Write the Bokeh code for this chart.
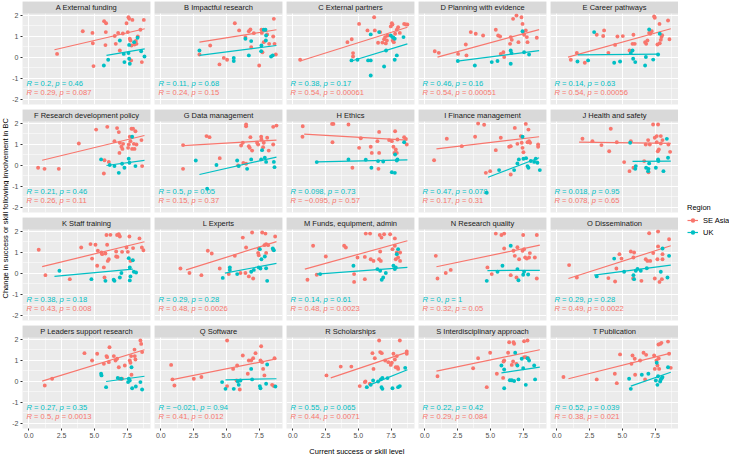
import math
from bokeh.plotting import figure
from bokeh.models import (Range1d, FixedTicker, LinearAxis, PrintfTickFormatter,
                          BoxAnnotation, Label, Legend, LegendItem, GridBox)
from bokeh.embed import file_html
from bokeh.resources import INLINE

# ---------------------------------------------------------------- data
PANEL_TITLES = [
    "A External funding", "B Impactful research", "C External partners",
    "D Planning with evidence", "E Career pathways",
    "F Research development policy", "G Data management", "H Ethics",
    "I Finance management", "J Health and safety",
    "K Staff training", "L Experts", "M Funds, equipment, admin",
    "N Research quality", "O Dissemination",
    "P Leaders support research", "Q Software", "R Scholarships",
    "S Interdisciplinary approach", "T Publication",
]

REGIONS = ["SE Asia", "UK"]

# (current level, change) pairs, one list per panel
SE_POINTS = [
    [(2.16,0.17),(4.12,1.25),(4.86,1.17),(4.89,0.68),(4.94,-0.41),(5.75,1.73),(5.9,1.63),(5.88,1.21),(5.85,0.59),(6.56,1.02),(6.64,0.65),(6.82,1.17),(6.95,0.33),(7.18,1.14),(7.46,1.63),(7.56,1.21),(7.61,1.92),(7.66,1.84),(7.71,0.89),(7.76,0.81),(7.84,0.57),(7.91,1.79),(8.07,0.62),(8.17,0.79),(8.22,0.65),(8.32,1.0),(8.52,1.32),(8.63,-0.22),(8.78,1.79),(7.81,-0.14)],
    [(2.95,0.14),(3.77,0.57),(4.48,-0.33),(4.81,-0.02),(5.06,-0.11),(5.65,1.63),(5.98,1.29),(6.46,0.97),(6.72,1.25),(6.84,1.33),(6.9,0.49),(7.1,1.16),(7.51,-0.38),(7.68,1.32),(7.71,1.17),(7.76,0.25),(7.86,0.73),(8.12,1.1),(8.27,0.65),(8.58,1.0),(8.63,1.84),(8.68,0.65),(8.78,0.14)],
    [(0.56,-0.11),(4.17,0.73),(4.5,0.87),(4.6,0.21),(4.6,0.05),(5.06,1.6),(5.7,1.29),(6.21,1.92),(6.26,1.29),(6.51,0.7),(6.67,1.21),(6.84,0.71),(6.97,0.87),(7.1,0.67),(7.18,0.81),(7.23,1.05),(7.48,1.48),(7.56,1.63),(7.61,1.57),(7.63,0.81),(7.71,0.73),(7.81,1.13),(7.94,1.32),(8.04,1.44),(8.17,1.17),(8.5,1.6),(8.63,1.57),(8.75,1.57),(7.05,0.97)],
    [(0.76,0.3),(1.07,0.22),(2.54,0.17),(3.13,0.62),(3.18,0.1),(3.51,1.21),(3.89,1.13),(4.45,1.05),(5.42,1.32),(5.6,1.05),(5.75,1.0),(5.8,0.17),(6.0,0.25),(6.06,0.02),(6.51,0.65),(6.64,0.84),(6.74,1.84),(7.0,2.0),(6.56,0.97),(7.15,0.73),(7.38,1.92),(7.46,1.6),(7.51,1.21),(7.58,1.08),(7.71,1.29),(7.79,0.97),(7.84,0.73),(8.55,0.94)],
    [(1.07,-0.11),(1.53,0.21),(2.14,-0.25),(3.05,1.08),(3.54,1.02),(3.61,1.29),(3.94,0.22),(4.45,0.6),(4.63,1.0),(5.04,1.02),(5.55,0.33),(5.78,0.65),(5.85,1.08),(5.95,0.65),(6.74,0.73),(6.82,0.65),(6.92,0.81),(7.05,1.17),(7.13,1.13),(7.25,1.25),(7.43,1.95),(7.48,1.89),(7.68,0.62),(7.84,1.6),(7.86,0.68),(7.94,0.84),(7.99,0.97),(8.04,1.06),(8.49,1.76),(8.6,0.87)],
    [(0.71,-0.11),(1.2,-0.16),(2.29,-0.16),(3.82,1.05),(5.14,1.71),(5.78,0.25),(5.73,-0.38),(5.99,1.84),(6.11,0.17),(6.54,1.16),(6.74,1.78),(6.87,1.59),(6.92,0.6),(6.95,1.08),(7.07,0.89),(7.15,0.79),(7.2,1.03),(7.63,1.0),(7.71,1.37),(7.76,1.16),(7.84,1.75),(7.96,1.75),(7.89,0.79),(8.02,1.03),(8.07,0.79),(8.14,1.63),(8.22,1.0),(8.6,1.21),(8.65,-0.03),(7.58,0.84)],
    [(1.7,0.97),(1.7,-0.16),(3.49,1.4),(3.72,1.35),(4.5,0.35),(5.9,0.0),(6.13,0.95),(6.26,1.08),(6.51,0.08),(6.51,1.87),(6.51,1.95),(6.72,0.92),(6.84,1.35),(6.79,0.84),(6.97,0.71),(7.35,1.08),(7.43,1.0),(7.66,1.37),(7.68,1.24),(7.81,0.87),(7.86,1.08),(8.12,1.32),(8.24,0.71),(8.58,1.0),(8.58,1.84),(8.83,1.9),(6.3,0.12)],
    [(0.76,1.87),(0.74,1.37),(3.03,1.11),(3.1,1.98),(3.0,1.98),(4.25,1.95),(4.55,-0.11),(5.06,0.84),(5.19,1.3),(5.95,0.89),(6.03,0.6),(6.46,1.16),(6.59,1.6),(6.59,0.6),(6.54,-0.16),(7.35,1.21),(7.56,1.16),(7.68,0.89),(7.76,0.6),(7.81,1.63),(7.86,0.76),(7.94,0.6),(7.99,1.24),(8.5,1.35),(8.63,1.27),(8.7,1.0)],
    [(0.71,0.25),(1.68,1.27),(2.82,0.92),(3.84,1.37),(4.07,2.0),(4.53,1.94),(5.42,0.73),(5.8,1.32),(4.99,-0.27),(4.66,-0.35),(6.44,0.89),(6.56,0.92),(6.87,1.79),(7.07,1.03),(7.4,1.08),(7.46,0.84),(7.53,0.63),(7.71,1.98),(7.84,1.11),(7.91,1.71),(7.96,1.16),(8.04,1.08),(8.65,1.0),(8.65,0.89),(6.56,-0.43),(7.33,1.4)],
    [(1.96,1.27),(2.72,1.16),(3.41,0.97),(4.0,0.68),(4.12,1.75),(4.58,1.11),(5.14,0.16),(5.55,-0.27),(5.65,1.16),(5.85,-0.11),(6.67,0.21),(6.79,1.0),(6.97,1.21),(7.0,-0.32),(7.1,1.0),(7.35,1.95),(7.48,1.32),(7.63,1.4),(7.71,0.68),(7.73,1.95),(7.79,0.76),(7.94,1.4),(7.94,1.05),(8.07,1.21),(8.52,1.0),(8.65,0.65),(7.63,1.11)],
    [(0.76,1.13),(1.27,-0.08),(3.13,-0.27),(4.0,1.24),(4.71,1.4),(4.83,0.71),(5.09,1.37),(5.22,0.37),(5.27,1.08),(5.55,1.0),(5.6,0.92),(5.73,0.29),(5.78,-0.19),(5.85,0.95),(5.93,1.83),(5.98,1.37),(6.03,0.6),(6.11,0.68),(6.23,1.84),(6.67,1.05),(6.74,1.83),(6.87,1.87),(6.95,1.76),(6.67,0.81),(6.77,0.79),(7.12,1.03),(7.46,1.24),(7.56,1.03),(7.68,1.76),(7.76,0.6),(7.96,1.21),(8.45,1.67),(8.63,1.24),(8.75,1.11)],
    [(1.5,0.24),(2.19,0.02),(3.1,-0.08),(3.59,1.08),(3.89,0.95),(4.5,0.24),(5.19,-0.03),(5.65,0.84),(6.08,0.02),(6.26,1.71),(6.51,1.24),(6.46,0.02),(6.97,1.95),(6.72,-0.14),(7.05,-0.24),(7.43,0.98),(7.48,0.87),(7.74,1.95),(7.91,1.35),(7.99,1.9),(8.04,1.4),(8.04,0.98),(8.19,1.35),(8.58,1.13),(8.73,1.76),(7.48,1.19)],
    [(1.12,-0.3),(1.55,1.32),(1.83,-0.06),(2.52,0.81),(3.92,1.32),(4.05,1.24),(4.68,-0.03),(4.68,-0.4),(4.94,0.76),(5.5,-0.27),(5.5,0.79),(5.57,1.9),(5.9,1.9),(5.95,0.68),(6.16,0.6),(6.59,0.68),(6.64,1.83),(6.72,0.6),(6.67,1.05),(6.77,1.71),(6.97,1.87),(7.43,1.87),(7.61,1.16),(7.79,1.67),(7.86,0.68),(7.94,1.0),(8.04,0.76),(8.19,1.0),(8.19,0.6),(7.79,1.32)],
    [(0.84,0.84),(0.97,-0.24),(1.6,0.02),(1.98,0.17),(4.78,0.29),(5.11,-0.03),(5.42,1.9),(5.85,1.83),(6.06,1.9),(6.06,1.19),(6.56,-0.08),(6.77,1.08),(6.87,0.84),(7.0,-0.19),(7.07,1.25),(7.2,0.68),(7.46,1.08),(7.51,1.83),(7.58,1.16),(7.66,0.76),(7.79,0.71),(7.96,0.76),(8.02,0.97),(8.4,0.76),(8.55,-0.24),(8.55,1.83)],
    [(0.94,0.4),(1.53,-0.19),(3.94,-0.22),(4.45,-0.38),(4.55,0.24),(4.78,0.92),(4.94,0.71),(5.65,1.05),(5.9,1.0),(5.85,0.76),(5.83,-0.24),(6.46,-0.35),(6.79,0.68),(6.92,0.6),(7.05,1.92),(7.13,0.6),(7.36,0.97),(7.48,-0.24),(7.68,0.68),(7.73,2.0),(7.73,1.29),(7.84,-0.4),(8.02,-0.27),(8.07,0.92),(8.07,0.68),(8.57,1.63)],
    [(1.22,-0.19),(1.78,0.13),(4.25,1.35),(4.83,1.0),(5.22,1.32),(5.73,0.84),(5.93,1.21),(5.98,1.16),(6.16,1.63),(6.11,0.92),(6.49,1.21),(6.62,1.0),(6.74,1.08),(6.87,0.68),(6.92,0.13),(7.12,0.13),(7.33,0.76),(7.71,1.0),(7.76,0.89),(7.81,1.21),(7.84,0.32),(8.09,1.21),(8.14,1.05),(8.52,1.95),(8.58,1.79),(8.65,1.4),(8.07,1.52)],
    [(0.79,0.79),(0.89,0.1),(1.04,-0.19),(2.52,0.13),(3.1,0.21),(5.06,1.95),(5.06,-0.22),(5.52,0.6),(5.83,0.76),(6.26,1.24),(6.64,0.37),(6.72,1.0),(6.9,1.0),(7.23,1.35),(7.05,1.11),(7.61,1.0),(7.66,1.68),(7.73,0.92),(7.81,0.6),(7.91,0.29),(8.5,-0.16),(8.63,-0.22),(8.68,1.11),(5.78,0.05),(6.03,-0.38)],
    [(2.57,0.29),(3.66,0.71),(4.47,0.71),(5.11,-0.22),(5.5,-0.03),(5.88,-0.11),(6.08,1.35),(6.16,0.6),(6.26,1.11),(6.59,1.95),(6.67,1.4),(6.79,1.35),(7.05,1.0),(7.3,0.92),(7.48,0.79),(7.56,0.89),(7.68,1.32),(7.79,1.05),(7.86,0.68),(7.94,1.21),(8.0,0.68),(8.04,0.6),(8.17,1.95),(8.7,1.43),(8.7,1.32),(5.55,0.0)],
    [(0.97,0.25),(3.69,0.63),(4.07,1.11),(4.73,-0.27),(4.99,1.37),(5.5,0.37),(5.98,0.17),(6.01,0.95),(6.06,1.0),(6.36,1.37),(6.44,1.87),(6.77,1.87),(6.64,0.79),(6.74,0.95),(6.99,0.84),(7.58,1.92),(7.58,1.16),(7.71,1.16),(7.84,1.95),(7.89,1.11),(6.82,1.8)],
    [(0.51,0.21),(3.05,0.1),(4.43,0.37),(4.58,-0.08),(4.83,1.29),(5.78,1.24),(5.7,0.84),(5.95,1.08),(5.98,0.32),(6.36,1.0),(6.62,1.37),(6.74,0.1),(6.82,1.27),(7.43,1.24),(7.48,0.6),(7.61,1.0),(7.68,0.76),(7.76,1.76),(7.81,0.6),(7.89,1.79),(7.99,1.84),(7.78,1.1),(8.49,1.9),(8.57,1.32),(8.7,0.65)],
]

UK_POINTS = [
    [(5.73,-0.38),(6.06,-0.11),(6.95,0.81),(7.25,0.17),(7.3,-0.22),(7.61,0.21),(7.66,0.6),(7.66,-0.06),(7.71,-0.3),(8.04,0.73),(8.3,0.94),(8.58,0.3),(8.83,0.05)],
    [(2.95,0.33),(5.57,-0.02),(5.57,-0.17),(6.46,0.89),(6.72,0.1),(6.9,0.78),(7.66,0.3),(7.68,0.57),(7.86,1.32),(7.99,1.32),(8.04,1.05),(8.02,0.81),(8.42,0.05),(8.55,0.1)],
    [(4.48,-0.14),(4.94,-0.11),(5.75,-0.14),(5.95,-0.14),(5.95,1.1),(5.95,-0.86),(6.59,1.21),(6.97,-0.43),(7.12,0.33),(7.48,1.05),(7.61,0.97),(7.68,0.94),(7.78,0.89),(7.94,0.1),(7.78,-0.11),(8.45,0.97)],
    [(2.52,-0.17),(3.82,-0.38),(5.11,-0.22),(5.55,-0.17),(6.56,-0.3),(6.56,0.33),(6.62,0.21),(7.46,1.25),(7.58,0.25),(7.96,0.14)],
    [(1.58,-0.19),(2.39,-0.14),(2.85,1.21),(4.38,-0.25),(4.83,-0.19),(5.65,0.21),(5.78,0.33),(5.83,-0.06),(5.99,-0.22),(6.74,-0.38),(6.8,0.02),(7.05,1.33),(7.36,-0.1),(7.86,1.13),(7.73,0.14)],
    [(5.52,0.29),(6.18,0.02),(6.54,-0.03),(6.87,-0.35),(7.12,0.08),(7.3,-0.11),(7.63,0.32),(7.68,0.13),(7.89,1.37),(8.14,-0.03)],
    [(2.67,0.24),(3.54,-1.11),(4.25,0.02),(5.83,0.24),(5.95,-0.03),(6.59,-0.16),(6.9,0.29),(7.66,0.29),(7.73,0.73),(7.94,0.37),(8.04,0.17),(8.63,0.17),(8.68,-0.08)],
    [(1.83,0.16),(4.25,0.29),(5.57,0.27),(6.0,-0.11),(6.51,0.21),(6.9,0.19),(7.56,-0.32),(7.79,-0.35),(7.94,0.24),(7.81,0.52),(7.99,0.29),(8.5,1.11)],
    [(5.67,-0.22),(7.46,1.37),(6.82,-0.22),(7.18,0.29),(7.53,0.32),(7.73,0.35),(7.84,-0.03),(7.91,-0.11),(8.09,0.21),(8.35,0.17),(8.47,0.32),(8.6,0.13),(8.78,-0.22),(7.07,0.1),(4.73,-1.3)],
    [(5.6,1.08),(6.03,-0.03),(5.99,-0.16),(6.82,-0.11),(7.0,-0.16),(7.05,0.1),(7.56,-0.11),(7.73,0.29),(7.76,0.21),(8.14,-0.27),(8.4,1.27),(8.49,0.37),(6.97,-0.27)],
    [(2.34,0.13),(4.78,-0.27),(5.85,-0.35),(6.48,-0.3),(6.54,-0.35),(6.95,-0.19),(7.07,0.02),(7.63,0.73),(7.71,0.29),(7.76,-0.14),(7.71,-0.33),(7.94,0.63),(8.02,0.08),(8.19,0.05)],
    [(4.73,-0.21),(5.27,0.29),(5.27,0.16),(5.83,-0.03),(6.9,0.08),(7.1,0.17),(7.48,0.29),(7.56,1.16),(7.68,0.68),(7.94,0.81),(8.04,0.25),(8.12,-0.35),(8.55,1.19),(8.63,1.11),(7.61,0.24)],
    [(2.09,-0.03),(4.63,0.37),(6.46,0.21),(6.67,0.13),(6.79,-0.3),(6.9,-0.19),(7.1,0.02),(7.68,0.37),(7.79,0.21),(7.86,0.29),(7.94,0.92),(8.04,1.16)],
    [(4.73,-0.35),(5.55,0.08),(5.93,0.37),(6.56,1.32),(7.07,0.21),(7.15,-0.32),(7.51,-0.06),(7.58,0.08),(7.89,-0.05)],
    [(3.05,-0.14),(4.38,0.71),(5.14,0.08),(5.9,-0.27),(6.03,0.13),(6.16,0.21),(6.41,0.13),(6.87,0.25),(7.94,0.08),(8.07,1.19),(8.45,-0.19),(8.57,0.84),(5.85,-0.08)],
    [(5.52,0.37),(5.55,0.29),(5.9,-0.27),(6.79,0.17),(7.05,0.13),(7.58,-0.03),(7.63,0.13),(7.84,0.68),(7.89,-0.32),(8.17,-0.24),(8.52,-0.03),(8.65,-0.38),(7.71,0.05)],
    [(4.68,-0.03),(4.94,-0.35),(5.57,-0.35),(5.88,0.0),(5.95,-0.16),(6.08,0.05),(6.9,0.6),(6.97,0.1),(7.56,-0.22),(7.61,-0.32),(8.04,-0.11),(8.12,0.81),(8.75,-0.24)],
    [(5.65,-0.27),(5.95,-0.16),(6.13,0.05),(6.51,0.0),(6.72,0.1),(6.77,-0.27),(6.84,0.17),(6.84,-0.35),(7.61,-0.32),(8.04,-0.27),(8.17,-0.22),(8.58,0.65),(7.23,0.16)],
    [(5.85,0.76),(6.06,0.57),(6.06,-0.32),(6.49,0.06),(6.64,0.06),(6.82,0.02),(6.9,1.37),(7.07,0.76),(7.15,0.1),(7.4,1.08),(7.51,0.63),(7.71,-0.16),(7.84,1.11),(7.96,1.0),(8.35,0.76),(8.42,0.1)],
    [(5.52,0.13),(5.65,-0.35),(6.49,0.32),(6.99,0.37),(7.56,0.05),(7.63,0.89),(7.68,-0.16),(7.73,0.25),(7.89,0.0),(7.94,0.1),(8.02,0.16),(8.07,0.21),(8.49,0.68)],
]

# fitted regression segments: (x start, y start, x end, y end)
SE_FIT = [
    (1.96,0.37,8.85,1.37),(2.95,0.73,8.83,1.32),(0.56,-0.17,8.75,1.44),(0.97,0.02,8.73,1.33),(0.86,0.02,8.7,1.37),
    (1.02,0.25,8.83,1.43),(1.7,0.95,8.83,1.21),(0.87,1.49,8.75,1.21),(0.89,0.79,8.73,1.37),(1.7,1.11,8.7,1.05),
    (1.02,0.33,8.83,1.51),(1.93,0.17,8.83,1.52),(0.92,0.21,8.75,1.56),(0.89,0.32,8.78,1.35),(0.89,-0.24,8.7,1.32),
    (1.02,0.02,8.83,1.51),(0.79,0.08,8.83,1.08),(2.9,0.17,8.75,1.4),(0.89,0.49,8.78,1.51),(0.89,0.13,8.7,1.35),
]
UK_FIT = [
    (5.93,0.1,8.85,0.41),(2.95,0.1,8.83,0.57),(4.48,-0.17,8.75,0.65),(2.49,-0.17,8.73,0.33),(1.6,0.12,7.81,0.16),
    (5.93,0.0,8.83,0.24),(2.95,-0.43,8.83,0.4),(1.83,0.17,8.75,0.27),(4.83,-0.56,8.73,0.37),(5.78,0.2,8.7,0.21),
    (1.96,-0.14,7.94,0.21),(4.89,0.02,8.83,0.48),(1.83,-0.03,8.75,0.29),(4.78,0.14,8.78,0.15),(2.85,-0.08,8.7,0.4),
    (5.9,0.0,8.83,0.25),(4.94,0.08,8.83,0.13),(5.88,-0.16,8.75,0.56),(5.85,0.41,8.78,0.68),(5.65,-0.22,8.7,0.44),
]

# correlation statistics per panel
UK_R = [0.2, 0.11, 0.38, 0.46, 0.14, 0.21, 0.5, 0.098, 0.47, 0.018,
        0.38, 0.29, 0.14, 0, 0.29, 0.27, -0.021, 0.55, 0.22, 0.52]
UK_P = [0.46, 0.68, 0.17, 0.16, 0.63, 0.46, 0.05, 0.73, 0.078, 0.95,
        0.18, 0.28, 0.61, 1, 0.28, 0.35, 0.94, 0.065, 0.42, 0.039]
SE_R = [0.29, 0.24, 0.54, 0.54, 0.54, 0.26, 0.15, -0.095, 0.17, 0.078,
        0.43, 0.48, 0.48, 0.32, 0.49, 0.5, 0.41, 0.44, 0.29, 0.38]
SE_P = [0.087, 0.15, 0.00061, 0.00051, 0.00056, 0.11, 0.37, 0.57, 0.31, 0.65,
        0.008, 0.0026, 0.0023, 0.05, 0.0022, 0.0013, 0.012, 0.0071, 0.084, 0.021]

X_TICKS = [0, 2.5, 5, 7.5]
X_MINOR = [1.25, 3.75, 6.25, 8.75]
Y_TICKS = [-2, -1, 0, 1, 2]
Y_MINOR = [-1.5, -0.5, 0.5, 1.5]

X_TITLE = "Current success or skill level"
Y_TITLE = "Change in success or skill following involvement in BC"

# ---------------------------------------------------------------- style
SE_COLOR = "#F8766D"
UK_COLOR = "#00BFC4"
PANEL_BG = "#EBEBEB"
STRIP_BG = "#D9D9D9"
FONT = "Liberation Sans"

X_RANGE = (-0.48, 9.29)
Y_RANGE = (-2.24, 2.667)
STRIP_BOTTOM = 2.095
STAT_X = -0.18
STAT_SIZE = 7.6

FRAME_W, FRAME_H = 128, 103
N_ROWS, N_COLS = 4, 5

# Arial/Liberation Sans advance widths (per 1000 em) for the stat strings
ADV = {"R": 722, " ": 278, "=": 584, ".": 278, ",": 278, "p": 556, "\u2212": 584}


def text_width(s, size):
    return sum(ADV.get(ch, 556) for ch in s) * size / 1000.0


def fmt(v):
    return f"{v:g}".replace("-", "\u2212")


def add_stat(p, r, pval, y, color):
    r_txt, p_txt = fmt(r), fmt(pval)
    pieces = [("R", "italic", 0.0),
              (f"= {r_txt},", "normal", text_width("R ", STAT_SIZE)),
              ("p", "italic", text_width(f"R = {r_txt}, ", STAT_SIZE)),
              (f"= {p_txt}", "normal", text_width(f"R = {r_txt}, p ", STAT_SIZE))]
    for txt, style, off in pieces:
        p.add_layout(Label(x=STAT_X, y=y, x_offset=off, text=txt,
                           text_font=FONT, text_font_style=style,
                           text_font_size=f"{STAT_SIZE}px", text_color=color,
                           text_align="left", text_baseline="middle"))


def make_panel(i):
    r, c = divmod(i, N_COLS)
    left = 13 if c == 0 else 0
    right = 4 if c < N_COLS - 1 else 0
    top = 1
    bottom = 15 if r == N_ROWS - 1 else 4
    p = figure(width=left + FRAME_W + right, height=top + FRAME_H + bottom,
               x_range=Range1d(*X_RANGE), y_range=Range1d(*Y_RANGE),
               x_axis_location=None, y_axis_location=None,
               toolbar_location=None, output_backend="svg", title=None,
               min_border_left=left, min_border_right=right,
               min_border_top=top, min_border_bottom=bottom)
    p.background_fill_color = PANEL_BG
    p.border_fill_color = "white"
    p.outline_line_color = None

    p.xgrid.ticker = FixedTicker(ticks=X_TICKS, minor_ticks=X_MINOR)
    p.ygrid.ticker = FixedTicker(ticks=Y_TICKS, minor_ticks=Y_MINOR)
    for g in (p.xgrid, p.ygrid):
        g.grid_line_color = "white"
        g.grid_line_width = 1.0
        g.minor_grid_line_color = "white"
        g.minor_grid_line_width = 0.5

    if c == 0:
        ax = LinearAxis(ticker=FixedTicker(ticks=Y_TICKS),
                        formatter=PrintfTickFormatter(format="%d"))
        ax.axis_line_color = None
        ax.major_tick_line_color = "#333333"
        ax.major_tick_out = 2
        ax.major_tick_in = 0
        ax.minor_tick_line_color = None
        ax.major_label_text_font = FONT
        ax.major_label_text_font_size = "7px"
        ax.major_label_text_color = "#4D4D4D"
        ax.major_label_standoff = 2
        p.add_layout(ax, "left")
    if r == N_ROWS - 1:
        ax = LinearAxis(ticker=FixedTicker(ticks=X_TICKS),
                        formatter=PrintfTickFormatter(format="%.1f"))
        ax.axis_line_color = None
        ax.major_tick_line_color = "#333333"
        ax.major_tick_out = 2
        ax.major_tick_in = 0
        ax.minor_tick_line_color = None
        ax.major_label_text_font = FONT
        ax.major_label_text_font_size = "7px"
        ax.major_label_text_color = "#4D4D4D"
        ax.major_label_standoff = 2
        p.add_layout(ax, "below")

    for pts, fit, color in ((SE_POINTS[i], SE_FIT[i], SE_COLOR),
                            (UK_POINTS[i], UK_FIT[i], UK_COLOR)):
        xs = [q[0] for q in pts]
        ys = [q[1] for q in pts]
        p.scatter(xs, ys, size=3.9, fill_color=color, line_color=None)
        p.line([fit[0], fit[2]], [fit[1], fit[3]], line_color=color, line_width=1.2)

    add_stat(p, UK_R[i], UK_P[i], -1.25, UK_COLOR)
    add_stat(p, SE_R[i], SE_P[i], -1.65, SE_COLOR)

    # facet strip
    p.add_layout(BoxAnnotation(bottom=STRIP_BOTTOM, fill_color=STRIP_BG,
                               fill_alpha=1.0, line_color=None))
    p.add_layout(Label(x=sum(X_RANGE) / 2, y=(STRIP_BOTTOM + Y_RANGE[1]) / 2,
                       text=PANEL_TITLES[i], text_font=FONT,
                       text_font_size="7.5px", text_color="#1A1A1A",
                       text_align="center", text_baseline="middle"))
    return p


def blank(width, height):
    p = figure(width=width, height=height, x_range=Range1d(0, width),
               y_range=Range1d(0, height), x_axis_location=None,
               y_axis_location=None, toolbar_location=None,
               output_backend="svg", title=None, min_border=0)
    p.grid.visible = False
    p.outline_line_color = None
    p.background_fill_color = "white"
    p.border_fill_color = "white"
    return p


panels = [make_panel(i) for i in range(len(PANEL_TITLES))]

YLAB_W = 9
grid_h = sum(p.height for p in panels[::N_COLS])
grid_w = sum(p.width for p in panels[:N_COLS])

ylab = blank(YLAB_W, grid_h)
ylab.add_layout(Label(x=5, y=grid_h - 214.5, text=Y_TITLE, angle=math.pi / 2,
                      text_font=FONT, text_font_size="7.5px", text_color="black",
                      text_align="center", text_baseline="middle"))

XLAB_H = 454 - grid_h
xlab = blank(grid_w, XLAB_H)
xlab.add_layout(Label(x=(13 + grid_w) / 2, y=XLAB_H - 6.5, text=X_TITLE,
                      text_font=FONT, text_font_size="7.5px", text_color="black",
                      text_align="center", text_baseline="middle"))

# legend keys: one off-canvas sample per region so the key glyphs get drawn
LEG_W = 729 - YLAB_W - grid_w
leg = blank(LEG_W, 454)
KEY_X, KEY_Y = [-50, -40], [-50, -50]
items = []
for name, color in zip(REGIONS, (SE_COLOR, UK_COLOR)):
    ln = leg.line(KEY_X, KEY_Y, line_color=color, line_width=1.2)
    dot = leg.scatter(KEY_X[:1], KEY_Y[:1], size=3.9, fill_color=color, line_color=None)
    items.append(LegendItem(label=name, renderers=[ln, dot]))
legend = Legend(items=items, title="Region", location=(9, 216),
                title_text_font=FONT, title_text_font_size="7.5px",
                title_text_font_style="normal", title_text_color="black",
                title_standoff=2,
                label_text_font=FONT, label_text_font_size="7.5px",
                label_text_color="black", label_standoff=5,
                glyph_width=11, glyph_height=12, label_height=12, spacing=0,
                padding=0, margin=0, border_line_color=None,
                background_fill_alpha=0)
leg.add_layout(legend, "center")

children = [(ylab, 0, 0, N_ROWS, 1)]
for i, p in enumerate(panels):
    r, c = divmod(i, N_COLS)
    children.append((p, r, c + 1))
children.append((xlab, N_ROWS, 1, 1, N_COLS))
children.append((leg, 0, N_COLS + 1, N_ROWS + 1, 1))

layout = GridBox(children=children, spacing=0)

open("out.html", "w").write(file_html(layout, INLINE))
